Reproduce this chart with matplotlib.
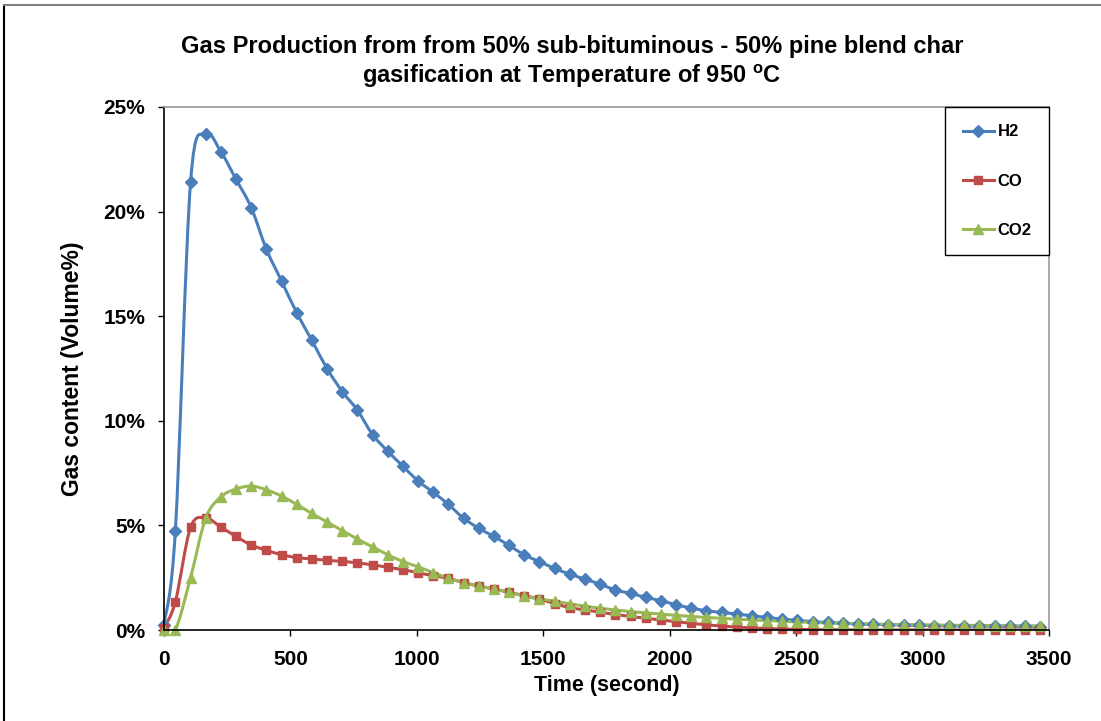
import matplotlib
matplotlib.use('Agg')
import matplotlib.pyplot as plt
from matplotlib.path import Path
from matplotlib.patches import PathPatch
from matplotlib.lines import Line2D
from matplotlib.ticker import FuncFormatter, MultipleLocator


# sampling times (s) and gas content (volume %)
time_s = [0, 45, 105, 165, 225, 285, 345, 405, 465, 525,
          585, 645, 705, 765, 825, 885, 945, 1005, 1065, 1125,
          1185, 1245, 1305, 1365, 1425, 1485, 1545, 1605, 1665, 1725,
          1785, 1845, 1905, 1965, 2025, 2085, 2145, 2205, 2265, 2325,
          2385, 2445, 2505, 2565, 2625, 2685, 2745, 2805, 2865, 2925,
          2985, 3045, 3105, 3165, 3225, 3285, 3345, 3405, 3465]

h2 = [0.25, 4.75, 21.4, 23.7, 22.86, 21.54, 20.19, 18.2, 16.68, 15.16,
      13.84, 12.49, 11.40, 10.50, 9.34, 8.54, 7.83, 7.12, 6.58, 6.0,
      5.34, 4.86, 4.47, 4.04, 3.59, 3.27, 2.94, 2.67, 2.43, 2.19,
      1.91, 1.75, 1.56, 1.40, 1.21, 1.05, 0.92, 0.84, 0.76, 0.68,
      0.60, 0.52, 0.46, 0.40, 0.36, 0.32, 0.29, 0.27, 0.25, 0.23,
      0.22, 0.21, 0.20, 0.19, 0.18, 0.18, 0.17, 0.17, 0.16]

co = [0.1, 1.35, 4.9, 5.35, 4.92, 4.47, 4.06, 3.81, 3.60, 3.46,
      3.40, 3.33, 3.28, 3.21, 3.11, 3.0, 2.88, 2.74, 2.59, 2.47,
      2.26, 2.10, 1.96, 1.80, 1.64, 1.48, 1.26, 1.07, 0.96, 0.85,
      0.74, 0.65, 0.56, 0.48, 0.40, 0.32, 0.25, 0.19, 0.14, 0.10,
      0.07, 0.05, 0.03, 0.02, 0.01, 0.01, 0.0, 0.0, 0.0, 0.0,
      0.0, 0.0, 0.0, 0.0, 0.0, 0.0, 0.0, 0.0, 0.0]

co2 = [0.0, 0.0, 2.5, 5.35, 6.36, 6.74, 6.88, 6.70, 6.40, 6.0,
       5.57, 5.16, 4.75, 4.35, 3.97, 3.60, 3.27, 3.02, 2.74, 2.48,
       2.27, 2.11, 1.95, 1.81, 1.62, 1.49, 1.38, 1.25, 1.14, 1.04,
       0.96, 0.88, 0.82, 0.76, 0.70, 0.65, 0.60, 0.56, 0.52, 0.48,
       0.45, 0.42, 0.39, 0.36, 0.34, 0.32, 0.30, 0.28, 0.27, 0.26,
       0.25, 0.24, 0.23, 0.22, 0.22, 0.21, 0.21, 0.20, 0.20]

series = [
    ('H2', h2, '#4A7EBB', 'D', 6.5),
    ('CO', co, '#BE4B48', 's', 6.0),
    ('CO2', co2, '#98B954', '^', 7.5),
]

x_ticks = [0, 500, 1000, 1500, 2000, 2500, 3000, 3500]

plt.rcParams['font.family'] = ['Liberation Sans', 'DejaVu Sans']
plt.rcParams['font.weight'] = 'bold'
plt.rcParams['mathtext.fontset'] = 'custom'
plt.rcParams['mathtext.rm'] = 'Liberation Sans:bold'
plt.rcParams['mathtext.it'] = 'Liberation Sans:bold'
plt.rcParams['mathtext.bf'] = 'Liberation Sans:bold'


def smooth_path(xs, ys):
    """Excel-like smoothed line: cubic Bezier segments through the points."""
    pts = list(zip(xs, ys))
    n = len(pts)
    verts = [pts[0]]
    codes = [Path.MOVETO]
    for i in range(n - 1):
        p0 = pts[i - 1] if i > 0 else pts[i]
        p1 = pts[i]
        p2 = pts[i + 1]
        p3 = pts[i + 2] if i + 2 < n else pts[i + 1]
        c1 = (p1[0] + (p2[0] - p0[0]) / 6, p1[1] + (p2[1] - p0[1]) / 6)
        c2 = (p2[0] - (p3[0] - p1[0]) / 6, p2[1] - (p3[1] - p1[1]) / 6)
        verts += [c1, c2, p2]
        codes += [Path.CURVE4] * 3
    return Path(verts, codes)


fig = plt.figure(figsize=(11.01, 7.21), dpi=100)
ax = fig.add_axes([164 / 1101, 1 - 630 / 721, 885 / 1101, 523 / 721])

handles = []
for name, vals, color, marker, ms in series:
    ax.add_patch(PathPatch(smooth_path(time_s, vals), fill=False,
                           edgecolor=color, lw=2.2, capstyle='round'))
    ax.plot(time_s, vals, ls='none', marker=marker, ms=ms, color=color,
            clip_on=False)
    handles.append(Line2D([], [], color=color, lw=2.2, marker=marker, ms=ms,
                          label=name))

ax.set_xlim(0, 3500)
ax.set_ylim(0, 25)
ax.set_xticks(x_ticks)
ax.yaxis.set_major_locator(MultipleLocator(5))
ax.yaxis.set_major_formatter(FuncFormatter(lambda v, p: f'{v:.0f}%'))

for side in ('left', 'bottom'):
    ax.spines[side].set_color('black')
    ax.spines[side].set_linewidth(1.2)
for side in ('top', 'right'):
    ax.spines[side].set_color('#9a9a9a')
    ax.spines[side].set_linewidth(1.2)

ax.tick_params(axis='both', direction='out', length=4.5, width=1,
               color='black', labelsize=15)
ax.tick_params(axis='y', pad=9)
ax.tick_params(axis='x', pad=10)
for lab in ax.get_xticklabels() + ax.get_yticklabels():
    lab.set_fontweight('bold')

leg = ax.legend(handles=handles, loc='upper right', bbox_to_anchor=(1, 1),
                borderaxespad=0, fontsize=12, numpoints=1, handlelength=1.9,
                handletextpad=0.2, labelspacing=2.05, borderpad=1.05,
                fancybox=False, framealpha=1)
leg.get_frame().set_edgecolor('black')
leg.get_frame().set_linewidth(1.0)

fig.text(572 / 1101, 1 - 46 / 721,
         'Gas Production from from 50% sub-bituminous - 50% pine blend char',
         ha='center', va='center', fontsize=17, fontweight='bold')
fig.text(572 / 1101, 1 - 76 / 721,
         r'gasification at Temperature of 950 $^{\mathrm{o}}$C',
         ha='center', va='center', fontsize=17, fontweight='bold')

fig.text(72 / 1101, 1 - 369 / 721, 'Gas content (Volume%)', rotation=90,
         ha='center', va='center', fontsize=16.5, fontweight='bold')
fig.text(607 / 1101, 1 - 686 / 721, 'Time (second)',
         ha='center', va='center', fontsize=15.5, fontweight='bold')

# outer chart border (left and top edges visible)
fig.add_artist(Line2D([4 / 1101, 4 / 1101], [0, 1 - 5 / 721],
                      transform=fig.transFigure, color='black', lw=1.5))
fig.add_artist(Line2D([4 / 1101, 1], [1 - 5 / 721, 1 - 5 / 721],
                      transform=fig.transFigure, color='#808080', lw=1.5))

fig.savefig('out.png', dpi=100)
